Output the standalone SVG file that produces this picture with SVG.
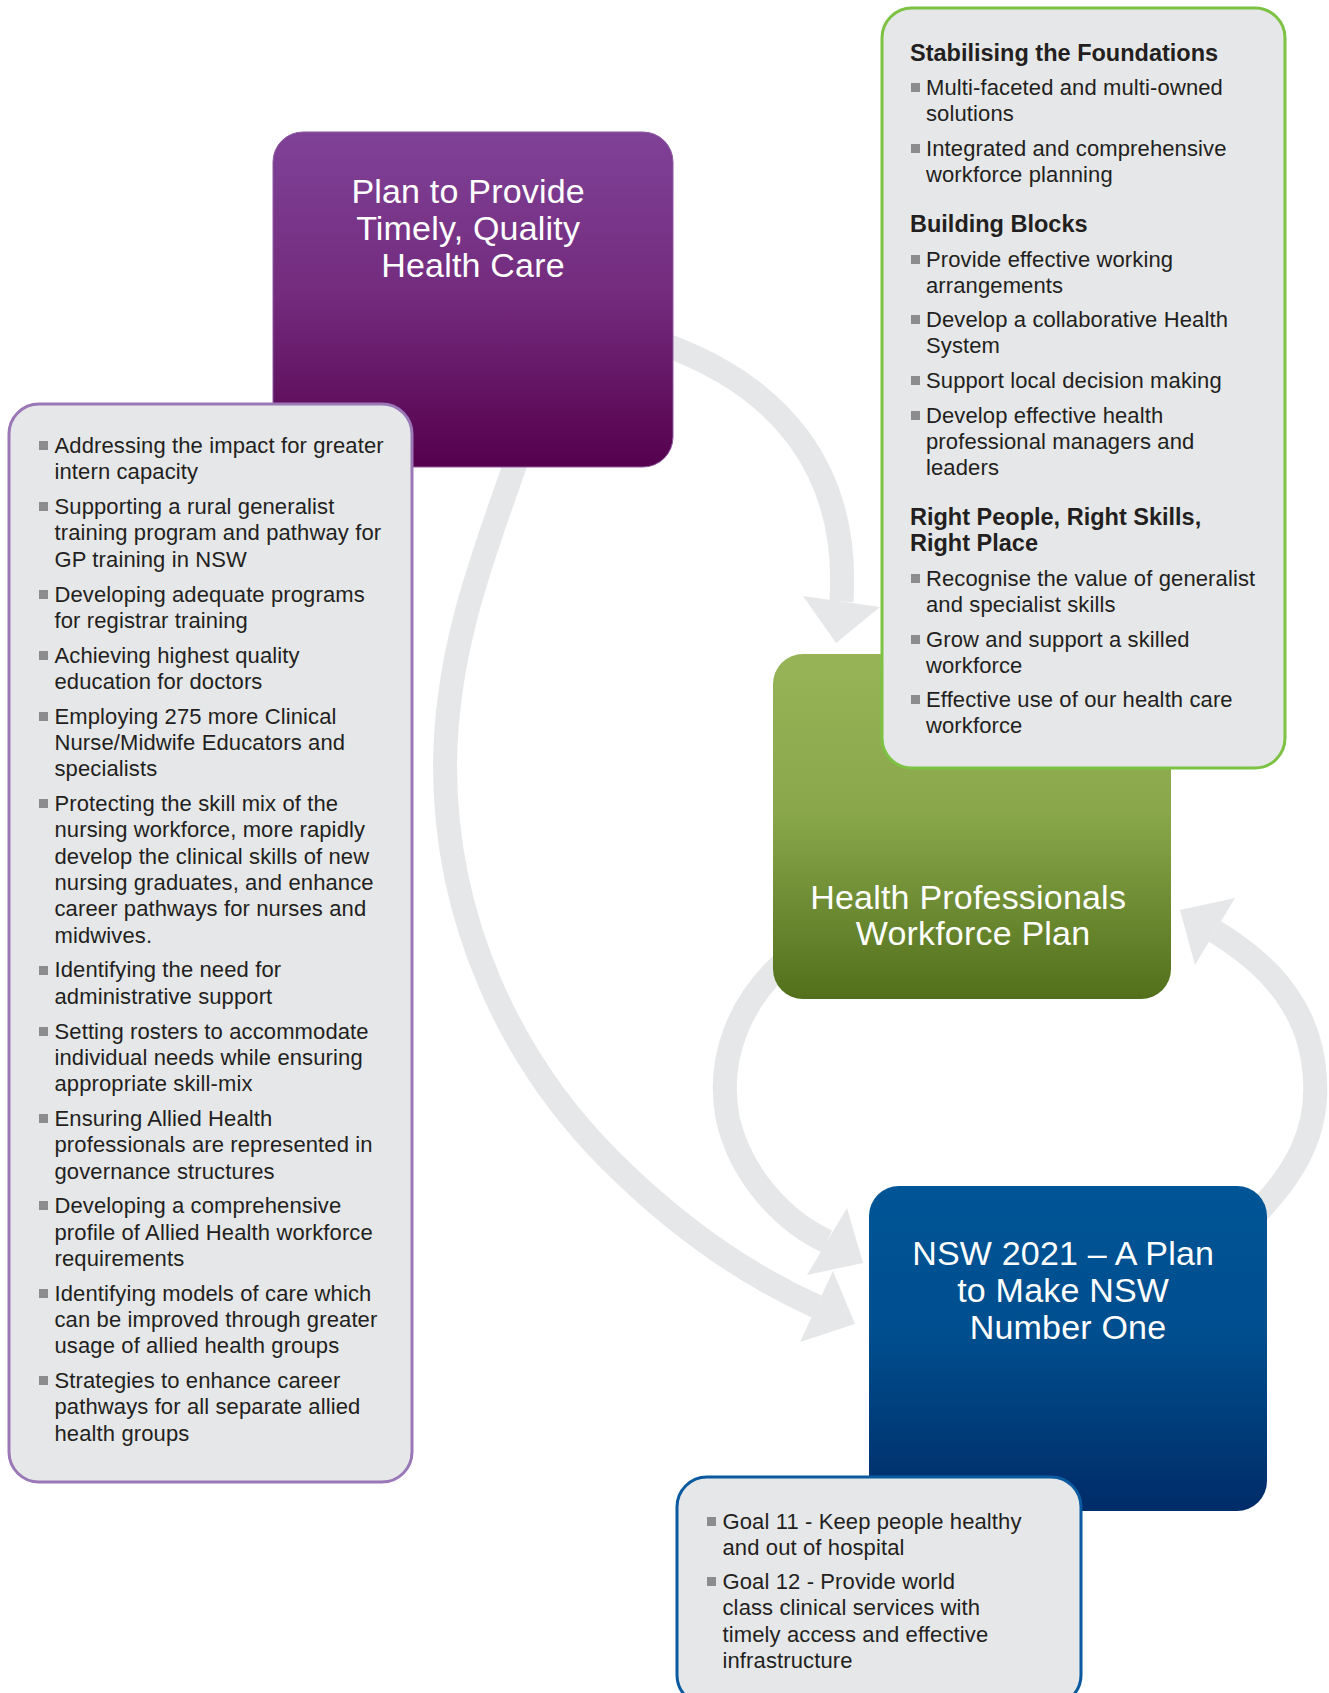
<svg xmlns="http://www.w3.org/2000/svg" width="1329" height="1693" viewBox="0 0 1329 1693">
  <defs>
    <linearGradient id="gradPurple" x1="0" y1="0" x2="0" y2="1">
      <stop offset="0" stop-color="#7f4297"/>
      <stop offset="0.5" stop-color="#732a7c"/>
      <stop offset="1" stop-color="#55004d"/>
    </linearGradient>
    <linearGradient id="gradGreen" x1="0" y1="0" x2="0" y2="1">
      <stop offset="0" stop-color="#97b557"/>
      <stop offset="0.45" stop-color="#8aa84b"/>
      <stop offset="1" stop-color="#52701b"/>
    </linearGradient>
    <linearGradient id="gradBlue" x1="0" y1="0" x2="0" y2="1">
      <stop offset="0" stop-color="#005596"/>
      <stop offset="0.45" stop-color="#004e8e"/>
      <stop offset="1" stop-color="#002c68"/>
    </linearGradient>
  </defs>
  <style>
    .band { fill: none; stroke: #e6e7e8; stroke-width: 24; }
    .head { fill: #e6e7e8; }
    .title { font-family: "Liberation Sans", Arial, sans-serif; font-size: 34px; fill: #ffffff; text-anchor: middle; letter-spacing: 0.2px; }
    .item { font-family: "Liberation Sans", Arial, sans-serif; font-size: 22px; fill: #231f20; letter-spacing: 0.12px; }
    .heading { font-family: "Liberation Sans", Arial, sans-serif; font-size: 23.5px; font-weight: bold; fill: #231f20; }
    .bullet { fill: #8c8c8e; }
    .panel { fill: #e6e7e8; stroke-width: 3; }
  </style>

  <rect width="1329" height="1693" fill="#ffffff"/>

  <!-- Curved grey connectors -->
  <g id="connectors">
    <!-- Plan to Provide -> Health Professionals Workforce Plan -->
    <path class="band" d="M 660 343 C 780 385 850 470 841.5 601.5"/>
    <polygon class="head" points="803,596 880,607 836,643"/>
    <!-- Plan to Provide -> NSW 2021 -->
    <path class="band" d="M 520 450 C 490 540 446 640 445 765 C 445 920 510 1060 610 1160 C 670 1220 740 1272 816.5 1306.5"/>
    <polygon class="head" points="833,1271 855,1324 800,1342"/>
    <!-- Health Professionals Workforce Plan -> NSW 2021 -->
    <path class="band" d="M 792 955 C 738 1000 716 1060 728 1120 C 742 1178 785 1222 827 1241.5"/>
    <polygon class="head" points="847,1208 863,1263 807,1275"/>
    <!-- NSW 2021 -> Health Professionals Workforce Plan -->
    <path class="band" d="M 1250 1220 C 1298 1172 1318 1130 1315 1080 C 1312 1010 1270 965 1215 931.5"/>
    <polygon class="head" points="1235,898 1195,965 1180,910"/>
  </g>

  <!-- Plan to Provide Timely, Quality Health Care -->
  <g id="node-plan">
    <rect x="273" y="132" width="400" height="335" rx="30" fill="url(#gradPurple)" stroke="#8e5aa0" stroke-width="1"/>
    <text class="title">
      <tspan x="473" y="203">Plan to Provide</tspan>
      <tspan x="473" y="240">Timely, Quality</tspan>
      <tspan x="473" y="277">Health Care</tspan>
    </text>
  </g>

  <!-- Actions under the plan -->
  <g id="node-plan-actions">
    <rect class="panel" x="9" y="404" width="403" height="1078" rx="30" stroke="#9a78b8"/>
    <g class="bullet">
      <rect x="39" y="441" width="9" height="9"/>
      <rect x="39" y="502" width="9" height="9"/>
      <rect x="39" y="590" width="9" height="9"/>
      <rect x="39" y="651" width="9" height="9"/>
      <rect x="39" y="712" width="9" height="9"/>
      <rect x="39" y="799" width="9" height="9"/>
      <rect x="39" y="966" width="9" height="9"/>
      <rect x="39" y="1027" width="9" height="9"/>
      <rect x="39" y="1114" width="9" height="9"/>
      <rect x="39" y="1201" width="9" height="9"/>
      <rect x="39" y="1289" width="9" height="9"/>
      <rect x="39" y="1376" width="9" height="9"/>
    </g>
    <text class="item">
      <tspan x="54.5" y="453">Addressing the impact for greater</tspan>
      <tspan x="54.5" y="479.3">intern capacity</tspan>
      <tspan x="54.5" y="514.1">Supporting a rural generalist</tspan>
      <tspan x="54.5" y="540.4">training program and pathway for</tspan>
      <tspan x="54.5" y="566.7">GP training in NSW</tspan>
      <tspan x="54.5" y="601.5">Developing adequate programs</tspan>
      <tspan x="54.5" y="627.8">for registrar training</tspan>
      <tspan x="54.5" y="662.6">Achieving highest quality</tspan>
      <tspan x="54.5" y="688.9">education for doctors</tspan>
      <tspan x="54.5" y="723.7">Employing 275 more Clinical</tspan>
      <tspan x="54.5" y="750">Nurse/Midwife Educators and</tspan>
      <tspan x="54.5" y="776.3">specialists</tspan>
      <tspan x="54.5" y="811.1">Protecting the skill mix of the</tspan>
      <tspan x="54.5" y="837.4">nursing workforce, more rapidly</tspan>
      <tspan x="54.5" y="863.7">develop the clinical skills of new</tspan>
      <tspan x="54.5" y="890">nursing graduates, and enhance</tspan>
      <tspan x="54.5" y="916.3">career pathways for nurses and</tspan>
      <tspan x="54.5" y="942.6">midwives.</tspan>
      <tspan x="54.5" y="977.4">Identifying the need for</tspan>
      <tspan x="54.5" y="1003.7">administrative support</tspan>
      <tspan x="54.5" y="1038.5">Setting rosters to accommodate</tspan>
      <tspan x="54.5" y="1064.8">individual needs while ensuring</tspan>
      <tspan x="54.5" y="1091.1">appropriate skill-mix</tspan>
      <tspan x="54.5" y="1125.9">Ensuring Allied Health</tspan>
      <tspan x="54.5" y="1152.2">professionals are represented in</tspan>
      <tspan x="54.5" y="1178.5">governance structures</tspan>
      <tspan x="54.5" y="1213.3">Developing a comprehensive</tspan>
      <tspan x="54.5" y="1239.6">profile of Allied Health workforce</tspan>
      <tspan x="54.5" y="1265.9">requirements</tspan>
      <tspan x="54.5" y="1300.7">Identifying models of care which</tspan>
      <tspan x="54.5" y="1327">can be improved through greater</tspan>
      <tspan x="54.5" y="1353.3">usage of allied health groups</tspan>
      <tspan x="54.5" y="1388.1">Strategies to enhance career</tspan>
      <tspan x="54.5" y="1414.4">pathways for all separate allied</tspan>
      <tspan x="54.5" y="1440.7">health groups</tspan>
    </text>
  </g>

  <!-- Health Professionals Workforce Plan -->
  <g id="node-workforce">
    <rect x="773" y="654" width="398" height="345" rx="30" fill="url(#gradGreen)"/>
    <text class="title">
      <tspan x="973" y="909">Health Professionals</tspan>
      <tspan x="973" y="945">Workforce Plan</tspan>
    </text>
  </g>

  <!-- Workforce plan themes -->
  <g id="node-workforce-themes">
    <rect class="panel" x="882" y="8" width="403" height="760" rx="30" stroke="#7dc243"/>
    <text class="heading" x="910" y="61">Stabilising the Foundations</text>
    <text class="heading" x="910" y="232">Building Blocks</text>
    <text class="heading">
      <tspan x="910" y="525">Right People, Right Skills,</tspan>
      <tspan x="910" y="551">Right Place</tspan>
    </text>
    <g class="bullet">
      <rect x="911" y="83" width="9" height="9"/>
      <rect x="911" y="144" width="9" height="9"/>
      <rect x="911" y="255" width="9" height="9"/>
      <rect x="911" y="315" width="9" height="9"/>
      <rect x="911" y="376" width="9" height="9"/>
      <rect x="911" y="411" width="9" height="9"/>
      <rect x="911" y="574" width="9" height="9"/>
      <rect x="911" y="635" width="9" height="9"/>
      <rect x="911" y="695" width="9" height="9"/>
    </g>
    <text class="item">
      <tspan x="926" y="95">Multi-faceted and multi-owned</tspan>
      <tspan x="926" y="121">solutions</tspan>
      <tspan x="926" y="156">Integrated and comprehensive</tspan>
      <tspan x="926" y="182">workforce planning</tspan>
      <tspan x="926" y="267">Provide effective working</tspan>
      <tspan x="926" y="293">arrangements</tspan>
      <tspan x="926" y="327">Develop a collaborative Health</tspan>
      <tspan x="926" y="353">System</tspan>
      <tspan x="926" y="388">Support local decision making</tspan>
      <tspan x="926" y="423">Develop effective health</tspan>
      <tspan x="926" y="449">professional managers and</tspan>
      <tspan x="926" y="475">leaders</tspan>
      <tspan x="926" y="586">Recognise the value of generalist</tspan>
      <tspan x="926" y="612">and specialist skills</tspan>
      <tspan x="926" y="647">Grow and support a skilled</tspan>
      <tspan x="926" y="673">workforce</tspan>
      <tspan x="926" y="707">Effective use of our health care</tspan>
      <tspan x="926" y="733">workforce</tspan>
    </text>
  </g>

  <!-- NSW 2021 - A Plan to Make NSW Number One -->
  <g id="node-nsw2021">
    <rect x="869" y="1186" width="398" height="325" rx="30" fill="url(#gradBlue)"/>
    <text class="title">
      <tspan x="1068" y="1265">NSW 2021 – A Plan</tspan>
      <tspan x="1068" y="1302">to Make NSW</tspan>
      <tspan x="1068" y="1339">Number One</tspan>
    </text>
  </g>

  <!-- NSW 2021 goals -->
  <g id="node-nsw2021-goals">
    <rect class="panel" x="677" y="1477" width="404" height="228" rx="30" stroke="#0b5aa0"/>
    <g class="bullet">
      <rect x="707" y="1517" width="9" height="9"/>
      <rect x="707" y="1577" width="9" height="9"/>
    </g>
    <text class="item">
      <tspan x="722.5" y="1529">Goal 11 - Keep people healthy</tspan>
      <tspan x="722.5" y="1555">and out of hospital</tspan>
      <tspan x="722.5" y="1589">Goal 12 - Provide world</tspan>
      <tspan x="722.5" y="1615">class clinical services with</tspan>
      <tspan x="722.5" y="1642">timely access and effective</tspan>
      <tspan x="722.5" y="1668">infrastructure</tspan>
    </text>
  </g>
</svg>
